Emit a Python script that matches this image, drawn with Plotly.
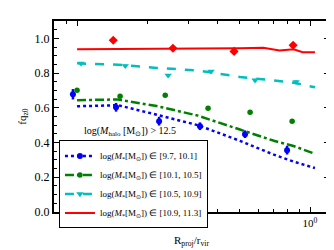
import plotly.graph_objects as go

# ---- data ----
# model curves
blue_mx = [0.1, 0.15, 0.22, 0.33, 0.5, 0.7, 0.85, 1.05]
blue_my = [0.609, 0.615, 0.56, 0.50, 0.41, 0.33, 0.29, 0.253]
green_mx = [0.1, 0.15, 0.22, 0.33, 0.5, 0.7, 0.85, 1.05]
green_my = [0.644, 0.648, 0.61, 0.555, 0.475, 0.41, 0.38, 0.335]
cyan_mx = [0.1, 0.15, 0.22, 0.33, 0.5, 0.7, 0.85, 1.05]
cyan_my = [0.856, 0.848, 0.83, 0.815, 0.778, 0.757, 0.745, 0.718]
red_mx = [0.1, 0.15, 0.22, 0.33, 0.5, 0.63, 0.74, 0.85, 0.93, 1.05]
red_my = [0.937, 0.94, 0.94, 0.942, 0.943, 0.946, 0.93, 0.937, 0.92, 0.92]

# measured points
blue_x = [0.096, 0.147, 0.225, 0.337, 0.526, 0.797]
blue_y = [0.678, 0.603, 0.523, 0.494, 0.448, 0.356]
blue_e = [0.03, 0.025, 0.025, 0.022, 0.022, 0.025]
green_x = [0.1, 0.153, 0.239, 0.365, 0.553, 0.838]
green_y = [0.701, 0.667, 0.672, 0.598, 0.575, 0.523]
green_e = [0.008, 0.008, 0.008, 0.008, 0.008, 0.008]
cyan_x = [0.104, 0.161, 0.246, 0.376, 0.581, 0.871]
cyan_y = [0.856, 0.842, 0.787, 0.81, 0.759, 0.75]
cyan_e = [0.008, 0.008, 0.008, 0.008, 0.008, 0.008]
red_x = [0.143, 0.258, 0.472, 0.846]
red_y = [0.989, 0.943, 0.925, 0.96]
red_e = [0.008, 0.008, 0.008, 0.008]

labels = [
    "log(<i>M</i><sub>*</sub>[M<sub>⊙</sub>]) ∈ [9.7, 10.1]",
    "log(<i>M</i><sub>*</sub>[M<sub>⊙</sub>]) ∈ [10.1, 10.5]",
    "log(<i>M</i><sub>*</sub>[M<sub>⊙</sub>]) ∈ [10.5, 10.9]",
    "log(<i>M</i><sub>*</sub>[M<sub>⊙</sub>]) ∈ [10.9, 11.3]",
]
title_txt = "log(<i>M</i><sub>halo</sub> [M<sub>⊙</sub>]) > 12.5"

series = [
    dict(mx=blue_mx, my=blue_my, x=blue_x, y=blue_y, e=blue_e, color="#0000ff",
         dash="dot", symbol="circle", size=6, lw=2.5),
    dict(mx=green_mx, my=green_my, x=green_x, y=green_y, e=green_e, color="#008000",
         dash="dashdot", symbol="circle", size=5.5, lw=2.5),
    dict(mx=cyan_mx, my=cyan_my, x=cyan_x, y=cyan_y, e=cyan_e, color="#00bfbf",
         dash="dash", symbol="triangle-down", size=6.5, lw=2.5),
    dict(mx=red_mx, my=red_my, x=red_x, y=red_y, e=red_e, color="#ff0000",
         dash="solid", symbol="diamond", size=7, lw=2),
]

fig = go.Figure()
for s, lab in zip(series, labels):
    fig.add_trace(go.Scatter(x=s["mx"], y=s["my"], mode="lines",
                             line=dict(color=s["color"], dash=s["dash"], width=s["lw"]),
                             showlegend=False, hoverinfo="skip"))
    fig.add_trace(go.Scatter(x=s["x"], y=s["y"], mode="markers",
                             marker=dict(color=s["color"], symbol=s["symbol"], size=s["size"]),
                             error_y=dict(type="data", array=s["e"], color=s["color"],
                                          thickness=2.5, width=0),
                             showlegend=False))
for i, (s, lab) in enumerate(zip(series, labels)):
    mode = "lines" if i == 3 else "lines+markers"
    fig.add_trace(go.Scatter(x=[None], y=[None], mode=mode, name=lab,
                             line=dict(color=s["color"], dash=s["dash"], width=s["lw"]),
                             marker=dict(color=s["color"], symbol=s["symbol"], size=s["size"])))

font = "Liberation Serif, Times New Roman, serif"
fig.update_layout(
    width=334, height=250,
    margin=dict(l=46, r=13, t=13, b=46),
    paper_bgcolor="white", plot_bgcolor="white",
    font=dict(family=font, size=11, color="black"),
    showlegend=True,
    legend=dict(x=0.018, y=0.375, xanchor="left", yanchor="top",
                bgcolor="white", bordercolor="black", borderwidth=1,
                font=dict(size=9, family=font), tracegroupgap=0,
                itemwidth=30),
    annotations=[dict(text=title_txt, x=0.276, y=0.378, xref="paper", yref="paper",
                      showarrow=False, xanchor="center", yanchor="bottom",
                      font=dict(size=10, family=font))],
)
fig.update_xaxes(
    type="log", range=[-1.099, 0.0815],
    tickmode="array", tickvals=[0.1, 1], ticktext=["10<sup>−1</sup>", "10<sup>0</sup>"],
    tickfont=dict(size=11, family=font),
    ticks="inside", ticklen=5, tickwidth=1, tickcolor="black",
    minor=dict(tickmode="array", tickvals=[0.08, 0.09, 0.2, 0.3, 0.4, 0.5, 0.6, 0.7, 0.8, 0.9],
               ticks="inside", ticklen=3, tickwidth=1, tickcolor="black"),
    showline=True, linecolor="black", linewidth=2, mirror="allticks",
    showgrid=False, zeroline=False,
    title=dict(text="R<sub>proj</sub>/r<sub>vir</sub>", font=dict(size=11, family=font), standoff=8),
)
fig.update_yaxes(
    range=[0, 1.1], tickmode="array", tickvals=[0, 0.2, 0.4, 0.6, 0.8, 1.0],
    ticktext=["0.0", "0.2", "0.4", "0.6", "0.8", "1.0"],
    tickfont=dict(size=12, family=font),
    ticks="inside", ticklen=5, tickwidth=1, tickcolor="black",
    minor=dict(dtick=0.05, ticks="inside", ticklen=3, tickwidth=1, tickcolor="black"),
    showline=True, linecolor="black", linewidth=2, mirror="allticks",
    showgrid=False, zeroline=False,
    title=dict(text="fq<sub>z0</sub>", font=dict(size=11, family=font), standoff=6),
)
fig.write_html("out.html")
